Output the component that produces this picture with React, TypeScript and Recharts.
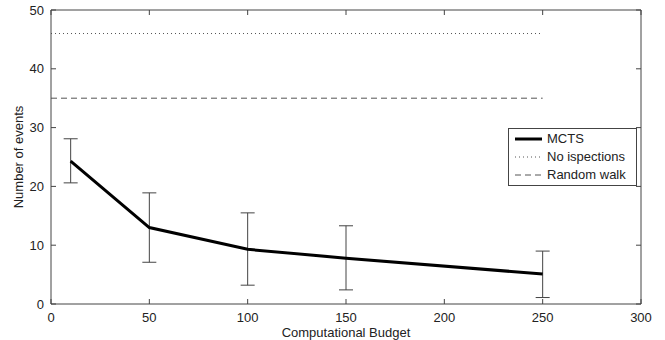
import React from "react"
import { ComposedChart, Line, XAxis, YAxis, ErrorBar } from "recharts"

// budgets and MCTS results (mean, low, high of the error bar)
const budgets = [10, 50, 100, 150, 250]
const mctsMean = [24.3, 13.0, 9.3, 7.8, 5.1]
const mctsLow = [20.6, 7.1, 3.2, 2.4, 1.1]
const mctsHigh = [28.1, 18.9, 15.5, 13.3, 9.0]

// baselines drawn as flat lines over the budget range
const baselineRange = [0, 250]
const noInspections = 46
const randomWalk = 35

const xTicks = [0, 50, 100, 150, 200, 250, 300]
const yTicks = [0, 10, 20, 30, 40, 50]

const mctsData = budgets.map((b, i) => ({
  budget: b,
  mcts: mctsMean[i],
  err: [mctsMean[i] - mctsLow[i], mctsHigh[i] - mctsMean[i]],
}))
const noInspData = baselineRange.map((b) => ({ budget: b, value: noInspections }))
const randomData = baselineRange.map((b) => ({ budget: b, value: randomWalk }))

const axisColor = "#444"
const textColor = "#222"
const tickStyle = { fontSize: 13, fill: textColor }

const legendItems = [
  { name: "MCTS", stroke: "#000", width: 3, dash: undefined },
  { name: "No ispections", stroke: "#555", width: 1, dash: "1 3" },
  { name: "Random walk", stroke: "#555", width: 1, dash: "6 4" },
]

function BoxLegend() {
  return (
    <div
      style={{
        position: "absolute",
        left: 508,
        top: 128,
        border: `1px solid ${axisColor}`,
        background: "#fff",
        width: 127,
        padding: "1px 0",
        fontSize: 13,
        color: textColor,
        lineHeight: "18px",
      }}
    >
      {legendItems.map((it) => (
        <div key={it.name} style={{ display: "flex", alignItems: "center", height: 18 }}>
          <svg width={38} height={18}>
            <line x1={6} x2={33} y1={9} y2={9} stroke={it.stroke} strokeWidth={it.width} strokeDasharray={it.dash} />
          </svg>
          <span>{it.name}</span>
        </div>
      ))}
    </div>
  )
}

export default function App() {
  return (
    <div style={{ position: "absolute", left: 0, top: 0, width: 665, height: 340, fontFamily: "'Liberation Sans', Arial, sans-serif" }}>
      <ComposedChart width={665} height={340} margin={{ top: 9, right: 23, bottom: 0, left: 0 }}>
        <XAxis
          dataKey="budget"
          type="number"
          domain={[0, 300]}
          ticks={xTicks}
          tickSize={-5}
          tickMargin={14}
          height={36}
          stroke={axisColor}
          tick={tickStyle}
          allowDuplicatedCategory={false}
          label={{ value: "Computational Budget", position: "insideBottom", offset: 3, fontSize: 13, fill: textColor }}
        />
        <XAxis
          xAxisId="top"
          dataKey="budget"
          orientation="top"
          type="number"
          domain={[0, 300]}
          ticks={xTicks}
          tickSize={-5}
          tick={{ fontSize: 1, fill: "none" }}
          height={1}
          stroke={axisColor}
          allowDuplicatedCategory={false}
        />
        <YAxis
          type="number"
          domain={[0, 50]}
          ticks={yTicks}
          tickSize={-5}
          tickMargin={12}
          width={51}
          stroke={axisColor}
          tick={tickStyle}
          label={{
            value: "Number of events",
            angle: -90,
            position: "insideLeft",
            offset: 18,
            fontSize: 13,
            fill: textColor,
            style: { textAnchor: "middle" },
          }}
        />
        <YAxis
          yAxisId="right"
          orientation="right"
          type="number"
          domain={[0, 50]}
          ticks={yTicks}
          tickSize={-5}
          tick={{ fontSize: 1, fill: "none" }}
          width={1}
          stroke={axisColor}
        />
        <Line
          data={noInspData}
          dataKey="value"
          xAxisId="top"
          yAxisId="right"
          stroke="#555"
          strokeWidth={1}
          strokeDasharray="1 3"
          dot={false}
          isAnimationActive={false}
        />
        <Line
          data={randomData}
          dataKey="value"
          stroke="#555"
          strokeWidth={1}
          strokeDasharray="6 4"
          dot={false}
          isAnimationActive={false}
        />
        <Line
          data={mctsData}
          dataKey="mcts"
          stroke="#000"
          strokeWidth={3}
          dot={false}
          isAnimationActive={false}
        >
          <ErrorBar dataKey="err" direction="y" width={7} stroke={axisColor} strokeWidth={1} />
        </Line>
      </ComposedChart>
      <BoxLegend />
    </div>
  )
}
